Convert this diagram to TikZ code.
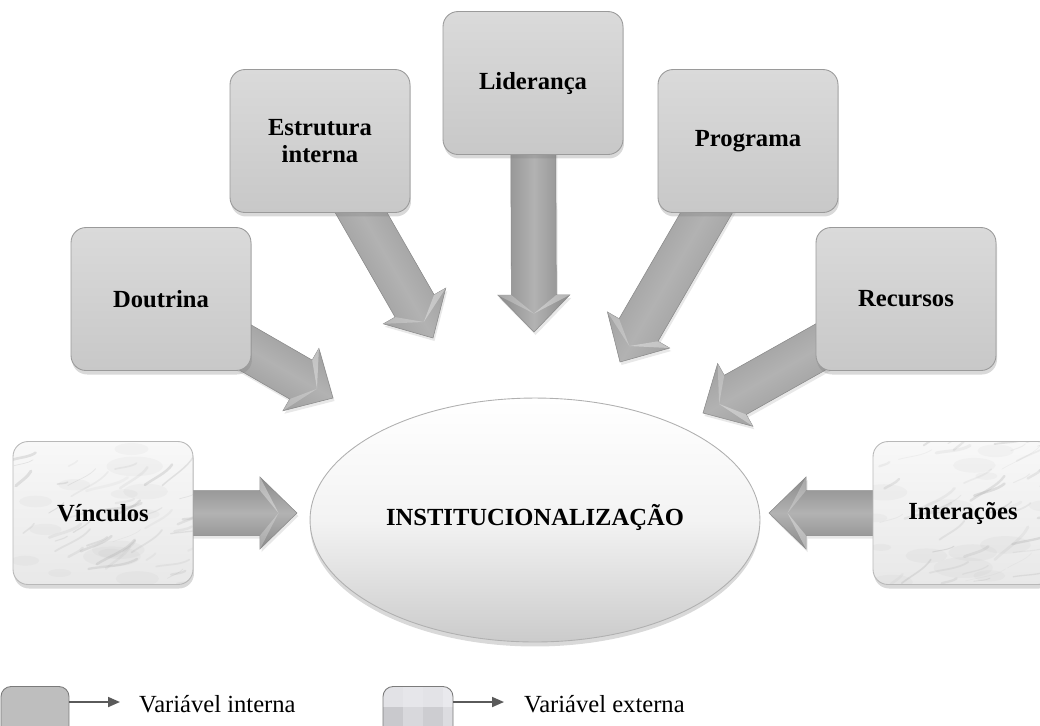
\documentclass[tikz,border=0pt]{standalone}
\usepackage{fontspec}
\setmainfont{Liberation Serif}
\usetikzlibrary{calc,shadows,shapes.geometric,arrows.meta}
\pgfdeclarelayer{back}
\pgfsetlayers{back,main}

\definecolor{boxtop}{HTML}{DADADA}
\definecolor{boxbot}{HTML}{C8C8C8}
\definecolor{boxline}{HTML}{9A9A9A}
\definecolor{arrdark}{HTML}{8A8A8A}
\definecolor{arrlight}{HTML}{B2B2B2}
\definecolor{arrline}{HTML}{888888}
\definecolor{marbleA}{HTML}{F8F8F8}
\definecolor{marbleB}{HTML}{E8E8E8}
\definecolor{vein}{HTML}{A4A4A4}
\definecolor{ellmid}{HTML}{F3F3F3}
\definecolor{ellbot}{HTML}{CBCBCB}
\definecolor{ellline}{HTML}{B0B0B0}
\definecolor{legline}{HTML}{5A5A5A}
\definecolor{leggray}{HTML}{BEBEBE}

% streaks and blotches of a white marble texture
\newcommand\marbleveins{%
  \shade[sharp corners, top color=marbleA, bottom color=marbleB]
    (path picture bounding box.south west) rectangle (path picture bounding box.north east);
  \foreach \k in {1,...,14} {%
    \pgfmathsetmacro\px{rnd*3.6}%
    \pgfmathsetmacro\py{rnd*2.86}%
    \pgfmathsetmacro\rr{0.2+rnd*0.4}%
    \fill[vein, opacity=0.07, rotate around={25:([xshift=\px cm, yshift=\py cm]path picture bounding box.south west)}]
      ([xshift=\px cm, yshift=\py cm]path picture bounding box.south west)
      ellipse [x radius=\rr cm, y radius=0.35*\rr cm];
  }%
  \foreach \k in {1,...,45} {%
    \pgfmathsetmacro\px{rnd*3.6}%
    \pgfmathsetmacro\py{rnd*2.86}%
    \pgfmathsetmacro\ln{0.2+rnd*0.8}%
    \pgfmathsetmacro\an{10+rnd*35}%
    \pgfmathsetmacro\lw{0.3+rnd*1.4}%
    \pgfmathsetmacro\op{0.08+rnd*0.2}%
    \draw[vein, opacity=\op, line width=\lw pt, line cap=round]
      ([xshift=\px cm, yshift=\py cm]path picture bounding box.south west)
      .. controls +(\an:0.3*\ln cm) and +(\an+200:0.3*\ln cm) .. ++(\an:\ln cm);
  }%
}

% block arrow from #1 to the tip #2, shaded across its width (#3 = direction)
\newcommand\blockarrow[3]{%
  \coordinate (hb) at ($(#2)!0.74cm!(#1)$);
  \shade[arrowbody, shading angle=#3]
    ($(#1)!0.45cm!90:(#2)$) -- ($(hb)!0.45cm!90:(#2)$) -- ($(hb)!0.72cm!90:(#2)$)
    -- (#2) -- ($(hb)!0.72cm!-90:(#2)$) -- ($(hb)!0.45cm!-90:(#2)$)
    -- ($(#1)!0.45cm!-90:(#2)$) -- cycle;
  % light bevel facets at the back corners of the head
  \fill[white, opacity=0.35]
    ($(hb)!0.72cm!90:(#2)$) -- ($(hb)!0.45cm!90:(#2)$) -- ($(#2)!0.5!(hb)$) -- cycle;
  \fill[white, opacity=0.25]
    ($(hb)!0.72cm!-90:(#2)$) -- ($(hb)!0.45cm!-90:(#2)$) -- ($(#2)!0.5!(hb)$) -- cycle;
}

\tikzset{
  lbl/.style={font=\fontsize{14}{15.5}\selectfont\bfseries, align=center, text=black},
  boxbase/.style={lbl, rectangle, rounded corners=0.3cm, minimum width=3.6cm,
    minimum height=2.86cm, line width=0.5pt,
    drop shadow={opacity=0.3, shadow xshift=0.02cm, shadow yshift=-0.08cm}},
  internal/.style={boxbase, draw=boxline, top color=boxtop, bottom color=boxbot},
  external/.style={boxbase, draw=boxline!70, path picture={\marbleveins}},
  centre/.style={lbl, ellipse, inner sep=0pt, minimum width=9cm, minimum height=4.88cm,
    draw=ellline, line width=0.5pt, top color=white, bottom color=ellbot, middle color=ellmid,
    drop shadow={opacity=0.3, shadow xshift=0cm, shadow yshift=-0.09cm}},
  arrowbody/.style={top color=arrdark, bottom color=arrdark, middle color=arrlight,
    draw=arrline, line width=0.3pt, line join=miter,
    drop shadow={opacity=0.18, shadow xshift=0.03cm, shadow yshift=-0.06cm}},
  legtext/.style={font=\fontsize{14}{16}\selectfont, anchor=west},
  legarrow/.style={draw=legline, line width=1pt, -{Triangle[length=0.24cm, width=0.2cm]}},
}

\begin{document}
\begin{tikzpicture}[x=0.02cm, y=-0.02cm]
  \pgfmathsetseed{11}
  \clip (0,0) rectangle (1040,725);

  % central concept
  \node[centre] (inst) at (535,520) {\raisebox{0.2cm}{INSTITUCIONALIZAÇÃO}};

  % internal variables
  \node[internal] (dout) at (161,299) {Doutrina};
  \node[internal] (estr) at (320,141) {Estrutura\\interna};
  \node[internal] (lide) at (533,83)  {Liderança};
  \node[internal] (prog) at (748,141) {Programa};
  \node[internal] (recu) at (906,299) {Recursos};

  % external variables
  \node[external] (vinc) at (103,513) {Vínculos};
  \node[external] (inte) at (963,513) {Interações};

  % arrow tips in front of the ellipse
  \coordinate (tDout) at (333,398);
  \coordinate (tEstr) at (433,338);
  \coordinate (tLide) at (534,332);
  \coordinate (tProg) at (620,362);
  \coordinate (tRecu) at (703,413);
  \coordinate (tVinc) at (297,513);
  \coordinate (tInte) at (769,513);

  \begin{pgfonlayer}{back}
    \blockarrow{dout.center}{tDout}{-30}
    \blockarrow{estr.center}{tEstr}{-60}
    \blockarrow{lide.center}{tLide}{-90}
    \blockarrow{prog.center}{tProg}{-120}
    \blockarrow{recu.center}{tRecu}{-150}
    \blockarrow{vinc.center}{tVinc}{0}
    \blockarrow{inte.center}{tInte}{180}
  \end{pgfonlayer}

  % legend
  \node[rectangle, rounded corners=0.2cm, minimum width=1.36cm, minimum height=1.06cm,
        draw=legline!80, line width=0.5pt, fill=leggray] (legi) at (35,713) {};
  \coordinate (lai) at (120,702);
  \draw[legarrow] (legi.east |- lai) -- (lai);
  \node[legtext] (lti) at (133,704) {Variável interna};

  \node[rectangle, rounded corners=0.2cm, minimum width=1.4cm, minimum height=1.06cm,
        draw=legline!80, line width=0.5pt, fill=white,
        path picture={
          \foreach \cx/\cy/\cc in {0/0/E2E2E6, 20/0/E6E6EA, 40/0/E3E3E7, 60/0/E9E9ED,
                                   0/20/C9C9CD, 20/20/D8D8DC, 40/20/CDCDD1, 60/20/DCDCE0,
                                   0/40/D2D2D6, 20/40/DEDEE2, 40/40/D4D4D8, 60/40/E0E0E4} {
            \definecolor{cell}{HTML}{\cc}
            \fill[cell, sharp corners] ($(path picture bounding box.north west)+(\cx,\cy)$) rectangle ++(20,20);
          }
        }] (lege) at (418,713) {};
  \coordinate (lae) at (504,702);
  \draw[legarrow] (lege.east |- lae) -- (lae);
  \node[legtext] (lte) at (518,704) {Variável externa};
\end{tikzpicture}
\end{document}
